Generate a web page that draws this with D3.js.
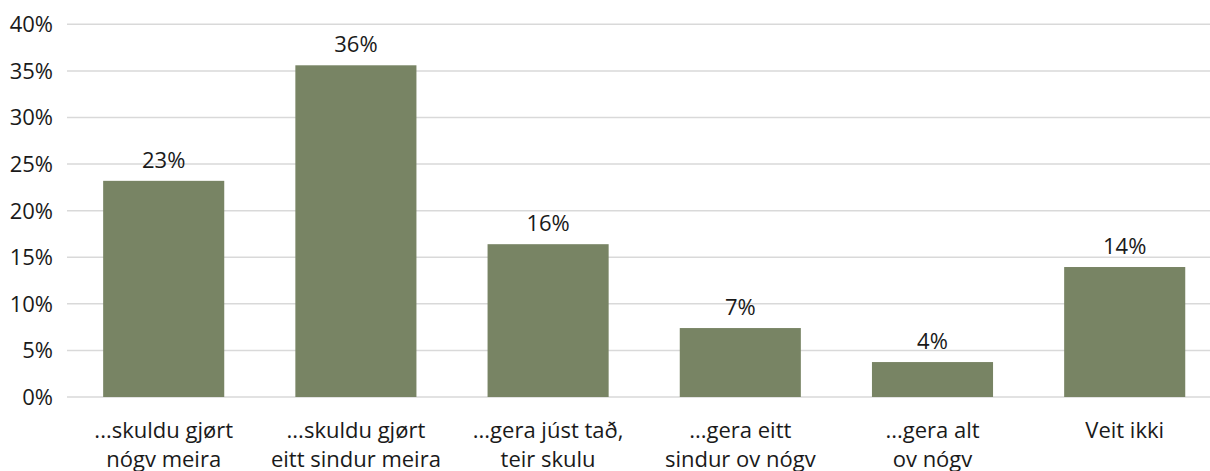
<!DOCTYPE html>
<html>
<head>
<meta charset="utf-8">
<script src="https://cdn.jsdelivr.net/npm/d3@7"></script>
<style>
  body { margin: 0; background: #fff; }
  svg text { font-family: "Open Sans", sans-serif; fill: #1a1a1a; }
</style>
</head>
<body>
<div id="plot"></div>
<script>
// data
var categories = [
  ["...skuldu gjørt", "nógv meira"],
  ["...skuldu gjørt", "eitt sindur meira"],
  ["...gera júst tað,", "teir skulu"],
  ["...gera eitt", "sindur ov nógv"],
  ["...gera alt", "ov nógv"],
  ["Veit ikki"]
];
var values = [23.2, 35.6, 16.4, 7.4, 3.75, 13.95];
var valueLabels = ["23%", "36%", "16%", "7%", "4%", "14%"];
var yTicks = [0, 5, 10, 15, 20, 25, 30, 35, 40];

var width = 1210, height = 471;

var svg = d3.select('#plot')
    .append('svg')
    .attr('width', width)
    .attr('height', height);

var x = d3.scaleBand()
    .domain(d3.range(categories.length))
    .range([67.6, 1220.8])
    .paddingInner(0.37)
    .paddingOuter(0.185);

var y = d3.scaleLinear()
    .domain([0, 40])
    .range([397, 24.3]);

// gridlines
svg.append('g')
    .selectAll('line')
    .data(yTicks)
    .enter()
    .append('line')
    .attr('x1', 67)
    .attr('x2', width)
    .attr('y1', function(d){ return y(d); })
    .attr('y2', function(d){ return y(d); })
    .style('stroke', '#d9d9d9')
    .style('stroke-width', 1.5);

// y tick labels
svg.append('g')
    .selectAll('text')
    .data(yTicks)
    .enter()
    .append('text')
    .attr('x', 53)
    .attr('y', function(d){ return y(d); })
    .attr('dy', '0.36em')
    .attr('text-anchor', 'end')
    .style('font-size', '22px')
    .text(function(d){ return d + '%'; });

// bars
svg.append('g')
    .selectAll('rect')
    .data(values)
    .enter()
    .append('rect')
    .attr('x', function(d, i){ return x(i); })
    .attr('y', function(d){ return y(d); })
    .attr('width', x.bandwidth())
    .attr('height', function(d){ return y(0) - y(d); })
    .style('fill', '#788464');

// value labels
svg.append('g')
    .selectAll('text')
    .data(values)
    .enter()
    .append('text')
    .attr('x', function(d, i){ return x(i) + x.bandwidth()/2; })
    .attr('y', function(d){ return y(d) - 13; })
    .attr('text-anchor', 'middle')
    .style('font-size', '22px')
    .text(function(d, i){ return valueLabels[i]; });

// category labels
var cat = svg.append('g')
    .selectAll('text')
    .data(categories)
    .enter()
    .append('text')
    .attr('text-anchor', 'middle')
    .style('font-size', '22px');

cat.selectAll('tspan')
    .data(function(d, i){ return d.map(function(t){ return {t: t, i: i}; }); })
    .enter()
    .append('tspan')
    .attr('x', function(d){ return x(d.i) + x.bandwidth()/2; })
    .attr('y', function(d, j){ return 438 + j*28.5; })
    .text(function(d){ return d.t; });
</script>
</body>
</html>
